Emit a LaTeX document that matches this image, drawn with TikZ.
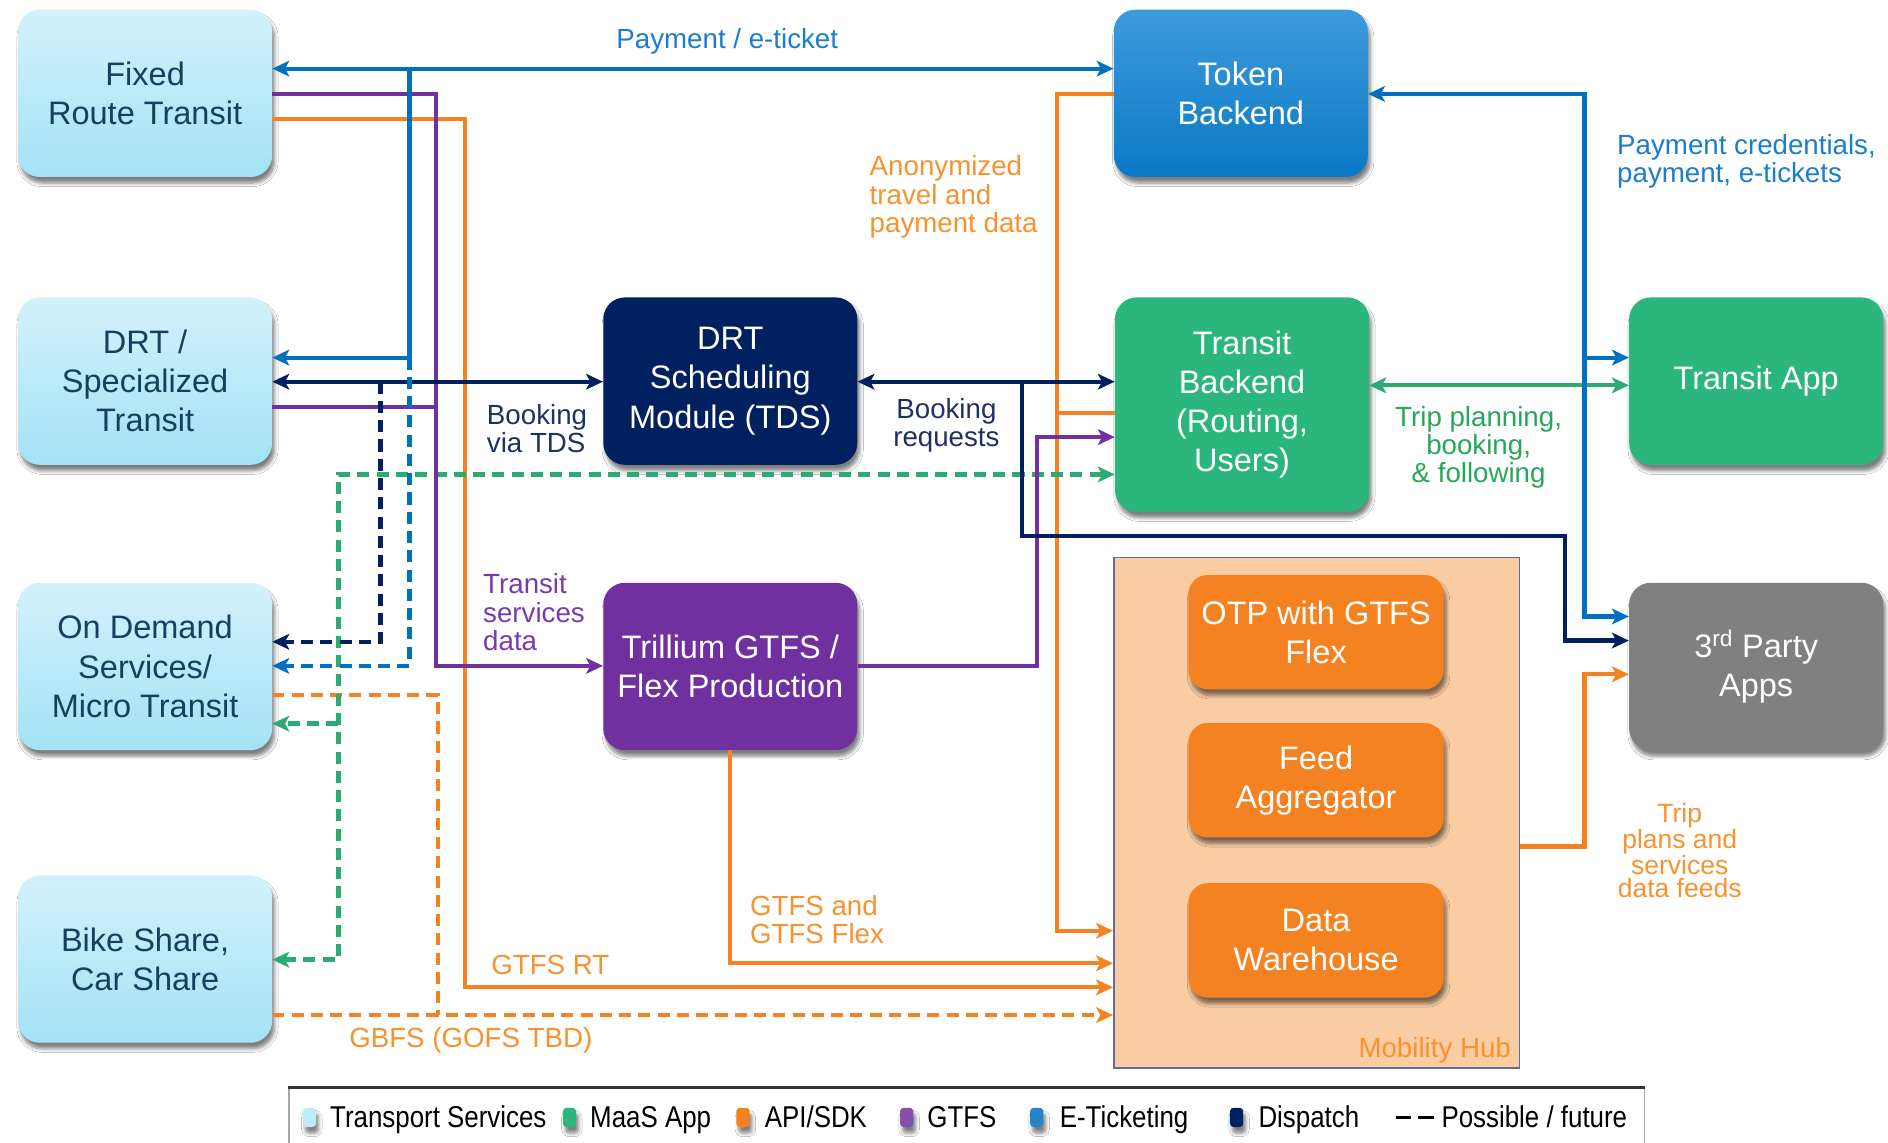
\documentclass[tikz,border=0pt]{standalone}
\usepackage{fontspec}
\setmainfont{Liberation Sans}
\newfontfamily\legendfont[FakeStretch=0.86]{Liberation Sans}
\usetikzlibrary{arrows.meta,shadows.blur}
\definecolor{cBlue}{HTML}{0070C0}
\definecolor{cBlueL}{HTML}{1C7CD0}
\definecolor{cNavy}{HTML}{002060}
\definecolor{cNavyL}{HTML}{1F3064}
\definecolor{cPurple}{HTML}{7030A0}
\definecolor{cPurpleL}{HTML}{7A3BAA}
\definecolor{cOrange}{HTML}{F58220}
\definecolor{cOrangeL}{HTML}{F7922F}
\definecolor{cGreen}{HTML}{2BAA72}
\definecolor{cGreenL}{HTML}{25A85A}
\definecolor{cGreenBox}{HTML}{2BB67D}
\definecolor{cGray}{HTML}{808080}
\definecolor{cLtTop}{HTML}{D3F1FB}
\definecolor{cLtBot}{HTML}{A3E2F6}
\definecolor{cLtText}{HTML}{15405F}
\definecolor{cTokTop}{HTML}{3D9BDB}
\definecolor{cTokBot}{HTML}{0B78C6}
\definecolor{cHub}{HTML}{F9CCA2}
\definecolor{cHubLine}{HTML}{5E6C9C}
\tikzset{
  shad/.style={blur shadow={shadow xshift=2pt, shadow yshift=-5pt, shadow blur radius=3pt, shadow blur steps=5, shadow opacity=50}},
  nbox/.style={shad, rounded corners=18pt, minimum width=211pt, minimum height=139pt, align=center, inner sep=0pt,
    font=\fontsize{27}{32.5}\selectfont, text=white},
  ltbox/.style={nbox, top color=cLtTop, bottom color=cLtBot, text=cLtText},
  ibox/.style={nbox, fill=cOrange, minimum width=212pt, minimum height=95pt, rounded corners=16pt},
  lbl/.style={inner sep=0pt, font=\fontsize{23}{23.5}\selectfont},
  conn/.style={line width=3.5pt, >={Stealth[length=14pt,width=13pt,inset=3.5pt]}},
  eb/.style={conn, draw=cBlue},
  nv/.style={conn, draw=cNavy},
  pp/.style={conn, draw=cPurple},
  orl/.style={conn, draw=cOrange},
  gr/.style={conn, draw=cGreen},
  dsh/.style={dash pattern=on 10pt off 6pt, line width=3.6pt},
  legicon/.style={shad, rounded corners=3pt, minimum width=11pt, minimum height=16pt, inner sep=0pt},
  legtext/.style={inner sep=0pt, anchor=base west, font=\legendfont\fontsize{25}{26}\selectfont},
}
\begin{document}
\begin{tikzpicture}[x=1pt,y=-1pt]
\path[use as bounding box] (0,0) rectangle (1568,949);
\clip (0,0) rectangle (1568,949);
\fill[white] (0,0) rectangle (1568,949);

% Mobility hub container
\node[draw=cHubLine, fill=cHub, line width=1.3pt, minimum width=337pt, minimum height=424pt, inner sep=0pt] (hub) at (1093.5,675) {};
\node[inner sep=0pt, text=cOrangeL, font=\fontsize{23}{24}\selectfont, anchor=east] (hublbl) at (1255,872) {Mobility Hub};

% Nodes
\node[ltbox] (frt) at (120.5,77.5) {Fixed\\Route Transit};
\node[ltbox] (drt) at (120.5,316.5) {DRT /\\Specialized\\Transit};
\node[ltbox] (ods) at (120.5,553.5) {On Demand\\Services/\\Micro Transit};
\node[ltbox] (bike) at (120.5,796.5) {Bike Share,\\Car Share};
\node[nbox, fill=cNavy] (tds) at (606.5,316.5) {DRT\\Scheduling\\Module (TDS)};
\node[nbox, fill=cPurple] (tril) at (606.5,553.5) {Trillium GTFS /\\Flex Production};
\node[nbox, top color=cTokTop, bottom color=cTokBot] (token) at (1030.5,77.5) {Token\\Backend};
\node[nbox, fill=cGreenBox, minimum height=178pt] (tb) at (1031.5,336) {Transit\\Backend\\(Routing,\\Users)};
\node[nbox, fill=cGreenBox] (tapp) at (1458.5,316.5) {Transit App};
\node[nbox, fill=cGray] (third) at (1458.5,553.5) {3\textsuperscript{rd} Party\\Apps};
\node[ibox] (otp) at (1093,525) {OTP with GTFS\\Flex};
\node[ibox] (feed) at (1093,648) {Feed\\Aggregator};
\node[ibox] (dw) at (1093,781) {Data\\Warehouse};

% junction coordinates
\coordinate (jb) at (340,57);
\coordinate (jn) at (316,317);
\coordinate (jn2) at (849,317);
\coordinate (jg) at (281,601);
\coordinate (jbr) at (1316,297);

% ---- Orange (API/SDK)
\draw[orl,->] (frt.east |- 0,99) -- (386,99) -- (386,820) -- (hub.west |- 0,820);
\draw[orl,dsh] (ods.east |- 0,577) -- (364,577) -- (364,843);
\draw[orl,dsh,->] (bike.east |- 0,843) -- (hub.west |- 0,843);
\draw[orl,->] (token.west |- 0,78) -- (878,78) -- (878,773) -- (hub.west |- 0,773);
\draw[orl] (tb.west |- 0,343) -- (878,343);
\draw[orl,->] (tril.south) -- (606.5,800) -- (hub.west |- 0,800);
\draw[orl,->] (hub.east |- 0,703) -- (1316,703) -- (1316,560) -- (third.west |- 0,560);

% ---- Green (MaaS)
\draw[gr,dsh,<->] (bike.east |- 0,797) -- (281,797) -- (281,394) -- (tb.west |- 0,394);
\draw[gr,dsh,->] (jg) -- (ods.east |- 0,601);
\draw[gr,<->] (tb.east |- 0,320) -- (tapp.west |- 0,320);

% ---- Purple (GTFS)
\draw[pp,->] (frt.east |- 0,78) -- (362,78) -- (362,553) -- (tril.west |- 0,553);
\draw[pp] (drt.east |- 0,338) -- (362,338);
\draw[pp,->] (tril.east |- 0,553) -- (861,553) -- (861,363) -- (tb.west |- 0,363);

% ---- Navy (Dispatch)
\draw[nv,dsh,->] (jn) -- (316,533) -- (ods.east |- 0,533);
\draw[nv,<->] (drt.east |- 0,317) -- (tds.west |- 0,317);
\draw[nv,<->] (tds.east |- 0,317) -- (tb.west |- 0,317);
\draw[nv,->] (jn2) -- (849,445) -- (1300,445) -- (1300,532) -- (third.west |- 0,532);

% ---- Blue (E-ticketing)
\draw[eb,<->] (frt.east |- 0,57) -- (token.west |- 0,57);
\draw[eb,->] (jb) -- (340,297) -- (drt.east |- 0,297);
\draw[eb,dsh,->] (340,297) -- (340,553) -- (ods.east |- 0,553);
\draw[eb,<->] (token.east |- 0,78) -- (1316,78) -- (1316,512) -- (third.west |- 0,512);
\draw[eb,->] (jbr) -- (tapp.west |- 0,297);

% ---- Labels
\node[lbl, text=cBlueL] (lpay) at (604,34) {Payment / e-ticket};
\node[lbl, text=cOrangeL, align=left] (lanon) at (792,163.5) {Anonymized\\travel and\\payment data};
\node[lbl, text=cNavyL, align=left] (lvia) at (446,356) {Booking\\via TDS};
\node[lbl, text=cNavyL, align=center] (lreq) at (786,353) {Booking\\requests};
\node[lbl, text=cGreenL, align=center] (ltrip) at (1228,371.5) {Trip planning,\\booking,\\\& following};
\node[lbl, text=cBlueL, align=left] (lcred) at (1450.5,134) {Payment credentials,\\payment, e-tickets};
\node[lbl, text=cPurpleL, align=left] (lsvc) at (443.5,508.5) {Transit\\services\\data};
\node[lbl, text=cOrangeL, align=left] (lgflex) at (678.5,764) {GTFS and\\GTFS Flex};
\node[lbl, text=cOrangeL] (lrt) at (457,801) {GTFS RT};
\node[lbl, text=cOrangeL] (lgbfs) at (391,864) {GBFS (GOFS TBD)};
\node[inner sep=0pt, text=cOrangeL, align=center, font=\fontsize{22}{19.5}\selectfont] (lfeeds) at (1395,706.5) {Trip\\plans and\\services\\data feeds};

% ---- Legend
\draw[draw=gray!70, line width=1pt] (240,903) -- (240,960);
\draw[draw=gray!70, line width=1pt] (1366,903) -- (1366,960);
\draw[draw=black!80, line width=2.5pt] (239.5,903) -- (1366.5,903);
\node[legicon, fill=cLtBot!70] (i1) at (257,928) {};
\node[legtext] (t1) at (274,936) {Transport Services};
\node[legicon, fill=cGreenBox] (i2) at (473,928) {};
\node[legtext] (t2) at (490,936) {MaaS App};
\node[legicon, fill=cOrange] (i3) at (617,928) {};
\node[legtext] (t3) at (635,936) {API/SDK};
\node[legicon, fill=cPurple!85] (i4) at (753,928) {};
\node[legtext] (t4) at (770,936) {GTFS};
\node[legicon, fill=cBlue!85] (i5) at (861,928) {};
\node[legtext] (t5) at (880,936) {E-Ticketing};
\node[legicon, fill=cNavy] (i6) at (1027,928) {};
\node[legtext] (t6) at (1045,936) {Dispatch};
\coordinate (d1) at (1159,928);
\coordinate (d2) at (1191,928);
\draw[line width=3pt, dash pattern=on 13pt off 6pt] (d1) -- (d2);
\node[legtext] (t7) at (1197,936) {Possible / future};
\end{tikzpicture}
\end{document}
